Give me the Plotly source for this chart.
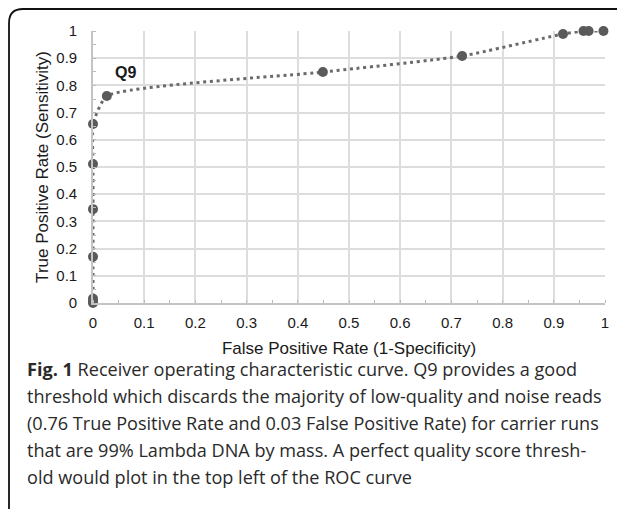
import plotly.graph_objects as go

fpr = [0, 0, 0, 0, 0, 0, 0, 0.027, 0.449, 0.721, 0.918, 0.958, 0.968, 0.997]
tpr = [0, 0.006, 0.016, 0.17, 0.345, 0.511, 0.658, 0.761, 0.849, 0.908, 0.989, 1.0, 1.0, 1.0]
tick_vals = [0, 0.1, 0.2, 0.3, 0.4, 0.5, 0.6, 0.7, 0.8, 0.9, 1]
tick_text = ["0", "0.1", "0.2", "0.3", "0.4", "0.5", "0.6", "0.7", "0.8", "0.9", "1"]
label_text = "Q9"
label_pos = (0.063, 0.846)
caption_lines = [
    "<b>Fig. 1</b> Receiver operating characteristic curve. Q9 provides a good",
    "threshold which discards the majority of low-quality and noise reads",
    "(0.76 True Positive Rate and 0.03 False Positive Rate) for carrier runs",
    "that are 99% Lambda DNA by mass. A perfect quality score thresh-",
    "old would plot in the top left of the ROC curve",
]

# the page body has a default 8px margin; work in page pixels and convert
OFF = 8
PW, PH = 625, 509
W, H = PW - OFF, PH - OFF
L, R, T, B = 93 - OFF, 605 - OFF, 31 - OFF, 303 - OFF
pw, ph = R - L, B - T

def px(x):
    return (x - OFF - L) / pw

def py(y):
    return (B - (y - OFF)) / ph

fig = go.Figure()
fig.add_trace(go.Scatter(
    x=fpr, y=tpr, mode="lines+markers", cliponaxis=False,
    line=dict(color="#6a6a6a", width=3, dash="3px,3.7px", shape="spline", smoothing=0.5),
    marker=dict(color="#5a5a5a", size=10),
    showlegend=False, hoverinfo="skip",
))

tick_font = dict(family="Liberation Sans, Arial, sans-serif", size=15, color="#1a1a1a")
title_font = dict(family="Liberation Sans, Arial, sans-serif", size=17, color="#1a1a1a")
fig.update_xaxes(
    range=[0, 1], tickvals=tick_vals, ticktext=tick_text, showgrid=True, automargin=False,
    gridcolor="#dddddd", gridwidth=1.6, showline=True, linecolor="#c4c4c4", linewidth=1.6,
    ticks="", ticklabelstandoff=5, tickfont=tick_font, zeroline=False,
    minor=dict(ticks="inside", ticklen=3, dtick=0.05, tick0=0, tickcolor="#bbbbbb", showgrid=False),
    title=dict(text="False Positive Rate (1-Specificity)", font=title_font, standoff=12),
    fixedrange=True,
)
fig.update_yaxes(
    range=[0, 1], tickvals=tick_vals, ticktext=tick_text, showgrid=True, automargin=False,
    gridcolor="#dddddd", gridwidth=1.6, showline=True, linecolor="#c4c4c4", linewidth=1.6,
    ticks="", ticklabelstandoff=11, tickfont=tick_font, zeroline=False,
    minor=dict(ticks="inside", ticklen=3, dtick=0.05, tick0=0, tickcolor="#bbbbbb", showgrid=False),
    title=dict(text="True Positive Rate (Sensitivity)", font=title_font, standoff=3),
    fixedrange=True,
)

fig.add_annotation(
    x=label_pos[0], y=label_pos[1], xref="x", yref="y", text="<b>%s</b>" % label_text,
    showarrow=False, font=dict(family="Liberation Sans, Arial, sans-serif", size=16, color="#1a1a1a"),
)

# caption
line_y = [369, 396, 423, 450, 477]
for txt, yy in zip(caption_lines, line_y):
    fig.add_annotation(
        x=px(25), y=py(yy), xref="paper", yref="paper", text=txt, showarrow=False,
        xanchor="left", yanchor="middle",
        font=dict(family="Open Sans, sans-serif", size=18.1, color="#2a2a2a"),
    )

# frame (rounded top-left corner)
r = 14
x0, y0 = 9, 9
path = "M %f %f L %f %f Q %f %f %f %f L %f %f" % (
    px(x0), py(PH + 5), px(x0), py(y0 + r), px(x0), py(y0), px(x0 + r), py(y0), px(PW + 5), py(y0))
fig.add_shape(type="path", path=path, xref="paper", yref="paper",
              line=dict(color="#111111", width=1.8))

fig.update_layout(
    width=W, height=H, margin=dict(l=L, r=W - R, t=T, b=H - B, autoexpand=False),
    paper_bgcolor="white", plot_bgcolor="white",
)
fig.write_html("out.html")
